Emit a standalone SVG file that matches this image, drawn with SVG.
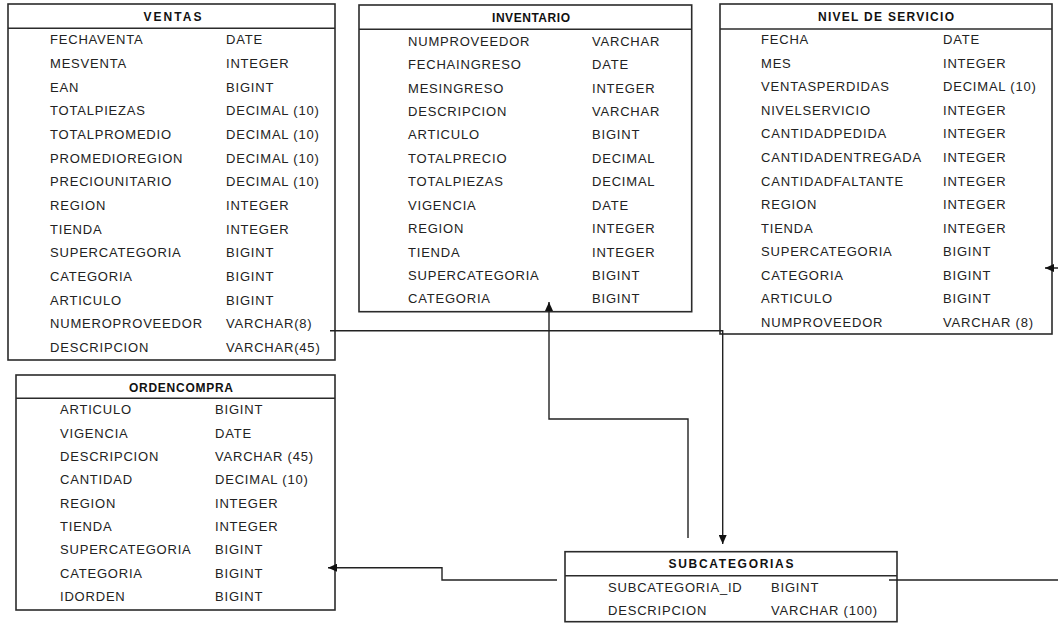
<svg xmlns="http://www.w3.org/2000/svg" width="1058" height="623" viewBox="0 0 1058 623">
<style>
.box{fill:#fff;stroke:#2b2b2b;stroke-width:1.6}
.sep{stroke:#2b2b2b;stroke-width:1.6}
.t{font-family:"Liberation Sans",Arial,sans-serif;font-weight:bold;font-size:12px;fill:#111;text-anchor:middle}
.r{font-family:"Liberation Sans",Arial,sans-serif;font-size:13px;fill:#222;letter-spacing:0.8px}
.c{fill:none;stroke:#222;stroke-width:1.4}
</style>
<defs>
<marker id="ah" markerUnits="userSpaceOnUse" markerWidth="10" markerHeight="8" refX="9" refY="4" orient="auto">
<path d="M0,0 L9,4 L0,8 z" fill="#111"/>
</marker>
</defs>
<rect width="1058" height="623" fill="#fff"/>

<g id="ventas">
<rect class="box" x="8" y="4" width="327" height="356"/>
<line class="sep" x1="8" y1="28.3" x2="335" y2="28.3"/>
<text class="t" x="172.5" y="20.7" textLength="58" lengthAdjust="spacing">VENTAS</text>
<text class="r" x="50" y="44.3">FECHAVENTA</text><text class="r" x="226" y="44.3">DATE</text>
<text class="r" x="50" y="68">MESVENTA</text><text class="r" x="226" y="68">INTEGER</text>
<text class="r" x="50" y="91.6">EAN</text><text class="r" x="226" y="91.6">BIGINT</text>
<text class="r" x="50" y="115.3">TOTALPIEZAS</text><text class="r" x="226" y="115.3">DECIMAL (10)</text>
<text class="r" x="50" y="138.9">TOTALPROMEDIO</text><text class="r" x="226" y="138.9">DECIMAL (10)</text>
<text class="r" x="50" y="162.6">PROMEDIOREGION</text><text class="r" x="226" y="162.6">DECIMAL (10)</text>
<text class="r" x="50" y="186.2">PRECIOUNITARIO</text><text class="r" x="226" y="186.2">DECIMAL (10)</text>
<text class="r" x="50" y="209.9">REGION</text><text class="r" x="226" y="209.9">INTEGER</text>
<text class="r" x="50" y="233.5">TIENDA</text><text class="r" x="226" y="233.5">INTEGER</text>
<text class="r" x="50" y="257.2">SUPERCATEGORIA</text><text class="r" x="226" y="257.2">BIGINT</text>
<text class="r" x="50" y="280.8">CATEGORIA</text><text class="r" x="226" y="280.8">BIGINT</text>
<text class="r" x="50" y="304.5">ARTICULO</text><text class="r" x="226" y="304.5">BIGINT</text>
<text class="r" x="50" y="328.1">NUMEROPROVEEDOR</text><text class="r" x="226" y="328.1">VARCHAR(8)</text>
<text class="r" x="50" y="351.8">DESCRIPCION</text><text class="r" x="226" y="351.8">VARCHAR(45)</text>
</g>

<g id="inventario">
<rect class="box" x="359" y="5" width="332.7" height="306.7"/>
<line class="sep" x1="359" y1="29.3" x2="691.7" y2="29.3"/>
<text class="t" x="531" y="21.7" textLength="78" lengthAdjust="spacing">INVENTARIO</text>
<text class="r" x="408" y="45.7">NUMPROVEEDOR</text><text class="r" x="592" y="45.7">VARCHAR</text>
<text class="r" x="408" y="69.1">FECHAINGRESO</text><text class="r" x="592" y="69.1">DATE</text>
<text class="r" x="408" y="92.5">MESINGRESO</text><text class="r" x="592" y="92.5">INTEGER</text>
<text class="r" x="408" y="116">DESCRIPCION</text><text class="r" x="592" y="116">VARCHAR</text>
<text class="r" x="408" y="139.4">ARTICULO</text><text class="r" x="592" y="139.4">BIGINT</text>
<text class="r" x="408" y="162.8">TOTALPRECIO</text><text class="r" x="592" y="162.8">DECIMAL</text>
<text class="r" x="408" y="186.2">TOTALPIEZAS</text><text class="r" x="592" y="186.2">DECIMAL</text>
<text class="r" x="408" y="209.6">VIGENCIA</text><text class="r" x="592" y="209.6">DATE</text>
<text class="r" x="408" y="233.1">REGION</text><text class="r" x="592" y="233.1">INTEGER</text>
<text class="r" x="408" y="256.5">TIENDA</text><text class="r" x="592" y="256.5">INTEGER</text>
<text class="r" x="408" y="279.9">SUPERCATEGORIA</text><text class="r" x="592" y="279.9">BIGINT</text>
<text class="r" x="408" y="303.3">CATEGORIA</text><text class="r" x="592" y="303.3">BIGINT</text>
</g>

<g id="nivel-de-servicio">
<rect class="box" x="720" y="4" width="332" height="330"/>
<line class="sep" x1="720" y1="29" x2="1052" y2="29"/>
<text class="t" x="886" y="20.7" textLength="136" lengthAdjust="spacing">NIVEL DE SERVICIO</text>
<text class="r" x="761" y="44.3">FECHA</text><text class="r" x="943" y="44.3">DATE</text>
<text class="r" x="761" y="67.8">MES</text><text class="r" x="943" y="67.8">INTEGER</text>
<text class="r" x="761" y="91.4">VENTASPERDIDAS</text><text class="r" x="943" y="91.4">DECIMAL (10)</text>
<text class="r" x="761" y="114.9">NIVELSERVICIO</text><text class="r" x="943" y="114.9">INTEGER</text>
<text class="r" x="761" y="138.4">CANTIDADPEDIDA</text><text class="r" x="943" y="138.4">INTEGER</text>
<text class="r" x="761" y="162">CANTIDADENTREGADA</text><text class="r" x="943" y="162">INTEGER</text>
<text class="r" x="761" y="185.5">CANTIDADFALTANTE</text><text class="r" x="943" y="185.5">INTEGER</text>
<text class="r" x="761" y="209">REGION</text><text class="r" x="943" y="209">INTEGER</text>
<text class="r" x="761" y="232.5">TIENDA</text><text class="r" x="943" y="232.5">INTEGER</text>
<text class="r" x="761" y="256.1">SUPERCATEGORIA</text><text class="r" x="943" y="256.1">BIGINT</text>
<text class="r" x="761" y="279.6">CATEGORIA</text><text class="r" x="943" y="279.6">BIGINT</text>
<text class="r" x="761" y="303.1">ARTICULO</text><text class="r" x="943" y="303.1">BIGINT</text>
<text class="r" x="761" y="326.7">NUMPROVEEDOR</text><text class="r" x="943" y="326.7">VARCHAR (8)</text>
</g>

<g id="ordencompra">
<rect class="box" x="16" y="375" width="319" height="235"/>
<line class="sep" x1="16" y1="398.3" x2="335" y2="398.3"/>
<text class="t" x="181" y="391.7" textLength="104" lengthAdjust="spacing">ORDENCOMPRA</text>
<text class="r" x="60" y="414.3">ARTICULO</text><text class="r" x="215" y="414.3">BIGINT</text>
<text class="r" x="60" y="437.6">VIGENCIA</text><text class="r" x="215" y="437.6">DATE</text>
<text class="r" x="60" y="461">DESCRIPCION</text><text class="r" x="215" y="461">VARCHAR (45)</text>
<text class="r" x="60" y="484.3">CANTIDAD</text><text class="r" x="215" y="484.3">DECIMAL (10)</text>
<text class="r" x="60" y="507.7">REGION</text><text class="r" x="215" y="507.7">INTEGER</text>
<text class="r" x="60" y="531">TIENDA</text><text class="r" x="215" y="531">INTEGER</text>
<text class="r" x="60" y="554.3">SUPERCATEGORIA</text><text class="r" x="215" y="554.3">BIGINT</text>
<text class="r" x="60" y="577.7">CATEGORIA</text><text class="r" x="215" y="577.7">BIGINT</text>
<text class="r" x="60" y="601">IDORDEN</text><text class="r" x="215" y="601">BIGINT</text>
</g>

<g id="subcategorias">
<rect class="box" x="565" y="551.7" width="332" height="70"/>
<line class="sep" x1="565" y1="575.7" x2="897" y2="575.7"/>
<text class="t" x="731" y="567.7" textLength="125" lengthAdjust="spacing">SUBCATEGORIAS</text>
<text class="r" x="608" y="591.7">SUBCATEGORIA_ID</text><text class="r" x="771" y="591.7">BIGINT</text>
<text class="r" x="608" y="615">DESCRIPCION</text><text class="r" x="771" y="615">VARCHAR (100)</text>
</g>

<g id="connectors">
<path class="c" d="M330,330.7 H722.7 V544" marker-end="url(#ah)"/>
<path class="c" d="M688,538 V419 H549 V302" marker-end="url(#ah)"/>
<path class="c" d="M557,580 H442 V567.7 H328" marker-end="url(#ah)"/>
<path class="c" d="M889,580 H1064 V268 H1045" marker-end="url(#ah)"/>
</g>
</svg>
